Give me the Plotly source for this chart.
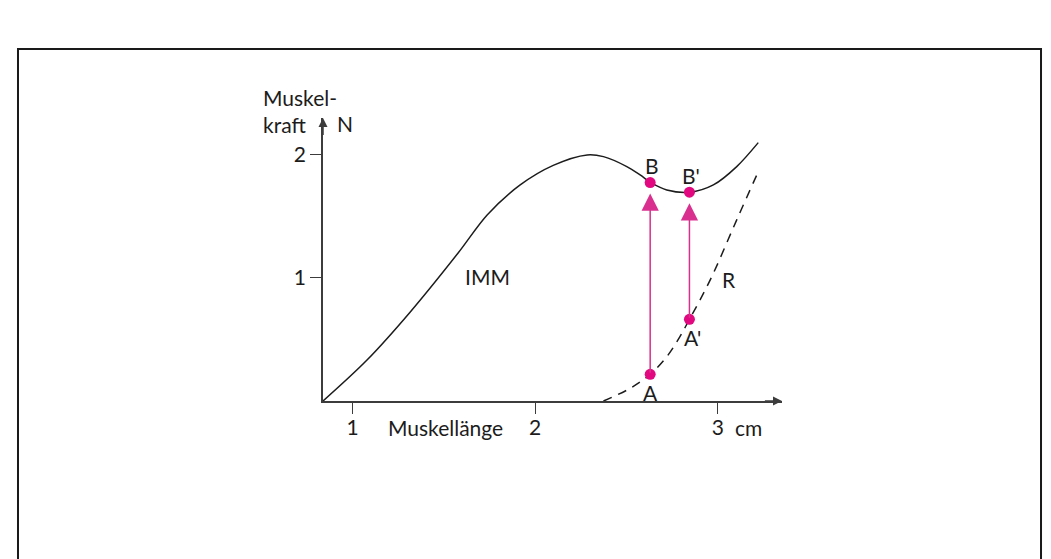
import plotly.graph_objects as go

# Isometric muscle maximum curve (IMM): length in cm, force in N
imm_x = [0.838, 1.079, 1.316, 1.578, 1.737, 1.918, 2.099, 2.285, 2.374,
         2.502, 2.575, 2.639, 2.721, 2.847, 2.976, 3.104, 3.222]
imm_y = [0.000, 0.333, 0.724, 1.203, 1.512, 1.756, 1.915, 2.000, 1.986,
         1.905, 1.837, 1.770, 1.715, 1.697, 1.756, 1.905, 2.100]

# Resting stretch curve (R)
r_x = [2.374, 2.520, 2.630, 2.721, 2.793, 2.845, 2.903, 2.976, 3.104, 3.228]
r_y = [0.000, 0.103, 0.217, 0.360, 0.523, 0.664, 0.821, 1.038, 1.472, 1.884]

# Start points on R and end points on IMM
start_names = ["A", "A'"]
start_x = [2.630, 2.845]
start_y = [0.217, 0.664]
end_names = ["B", "B'"]
end_x = [2.630, 2.845]
end_y = [1.775, 1.697]

x_ticks = [1, 2, 3]
x_tick_text = ["1", "2", "3"]
y_ticks = [1, 2]
y_tick_text = ["1", "2"]

FONT = "Lato"
SIZE = 21
INK = "#1c1c1c"
AXIS = "#3c3c3c"
MAGENTA = "#e2087f"
ARROW = "#d9308f"

fig = go.Figure()

fig.add_trace(go.Scatter(x=imm_x, y=imm_y, mode="lines",
                         line=dict(color=INK, width=1.5, shape="spline", smoothing=0.9),
                         hoverinfo="skip", showlegend=False))
fig.add_trace(go.Scatter(x=r_x, y=r_y, mode="lines",
                         line=dict(color=INK, width=1.5, dash="9px,7px", shape="spline"),
                         hoverinfo="skip", showlegend=False))

annotations = []

# vertical arrows from A to B and from A' to B'
for sx, sy, ex, ey in zip(start_x, start_y, end_x, end_y):
    annotations.append(dict(x=ex, y=ey, ax=sx, ay=sy, xref="x", yref="y",
                            axref="x", ayref="y", text="", showarrow=True,
                            arrowhead=2, arrowsize=2.3, arrowwidth=1.5,
                            arrowcolor=ARROW, standoff=11))

fig.add_trace(go.Scatter(x=start_x + end_x, y=start_y + end_y, mode="markers",
                         marker=dict(color=MAGENTA, size=11),
                         hoverinfo="skip", showlegend=False, cliponaxis=False))

# point labels
label_font = dict(family=FONT, size=SIZE, color=INK)
for name, px, py in zip(start_names, start_x, start_y):
    annotations.append(dict(x=px, y=py, text=name, showarrow=False, font=label_font,
                            xanchor="center", yanchor="middle",
                            xshift=3 if "'" in name else 0, yshift=-18))
for name, px, py in zip(end_names, end_x, end_y):
    annotations.append(dict(x=px, y=py, text=name, showarrow=False, font=label_font,
                            xanchor="center", yanchor="middle", xshift=2, yshift=17))

# curve names
annotations.append(dict(x=1.740, y=1.008, text="IMM", showarrow=False, font=label_font,
                        xanchor="center", yanchor="middle"))
annotations.append(dict(x=3.061, y=0.984, text="R", showarrow=False, font=label_font,
                        xanchor="center", yanchor="middle"))

# axis arrow heads
annotations.append(dict(x=3.352, y=0, ax=3.25, ay=0, xref="x", yref="y", axref="x", ayref="y",
                        text="", showarrow=True, arrowhead=2, arrowsize=1.2,
                        arrowwidth=1.5, arrowcolor=AXIS))
annotations.append(dict(x=0.838, y=2.30, ax=0.838, ay=2.15, xref="x", yref="y",
                        axref="x", ayref="y", text="", showarrow=True, arrowhead=2,
                        arrowsize=1.2, arrowwidth=1.5, arrowcolor=AXIS))

# axis titles and units (placed in paper space, outside the axis ranges)
def paper_text(x, y, text, xanchor="center"):
    return dict(x=x, y=y, xref="paper", yref="paper", text=text, showarrow=False,
                xanchor=xanchor, yanchor="middle", align="left", font=label_font)

annotations.append(paper_text(0.2673, -0.0919, "Muskellänge"))
annotations.append(paper_text(0.928, -0.0919, "cm"))
annotations.append(paper_text(-0.1357, 1.0265, "Muskel-<br>kraft", "left"))
annotations.append(paper_text(0.0479, 0.9813, "N"))

fig.update_layout(
    width=1051, height=559,
    margin=dict(l=323, r=269, t=118, b=158),
    paper_bgcolor="white", plot_bgcolor="white",
    annotations=annotations,
    shapes=[dict(type="rect", xref="paper", yref="paper",
                 x0=-0.6645, x1=1.5643, y0=-0.65, y1=1.2438,
                 line=dict(color="#1a1a1a", width=2), layer="above")],
    xaxis=dict(range=[0.838, 3.352], showgrid=False, zeroline=False,
               showline=True, linecolor=AXIS, linewidth=1.5,
               ticks="outside", ticklen=11, tickwidth=1.3, tickcolor=AXIS,
               tickvals=x_ticks, ticktext=x_tick_text, ticklabelstandoff=-4,
               tickfont=dict(family=FONT, size=SIZE, color=INK)),
    yaxis=dict(range=[0, 2.30], showgrid=False, zeroline=False,
               showline=True, linecolor=AXIS, linewidth=1.5,
               ticks="outside", ticklen=11, tickwidth=1.3, tickcolor=AXIS,
               tickvals=y_ticks, ticktext=y_tick_text,
               tickfont=dict(family=FONT, size=SIZE, color=INK)),
)

fig.write_html("out.html")
